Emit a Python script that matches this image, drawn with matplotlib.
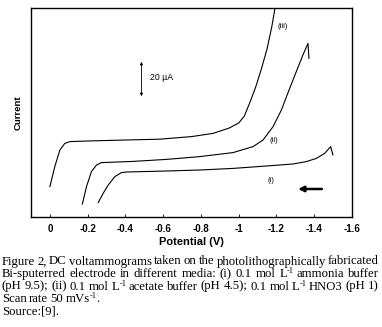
import matplotlib
matplotlib.use('Agg')
import matplotlib.pyplot as plt

# potential (V) and current (uA, arbitrary offset)
v_iii = [0.0, -0.026, -0.053, -0.079, -0.106, -0.2, -0.4, -0.58, -0.75, -0.864,
         -0.95, -1.0, -1.03, -1.06, -1.09, -1.12, -1.15, -1.175, -1.195]
i_iii = [15.2, 25.2, 33.5, 36.8, 37.7, 38.0, 38.5, 38.9, 40.2, 41.8,
         44.5, 47.0, 50.5, 57.5, 65.0, 74.0, 84.0, 95.0, 106.0]

v_ii = [-0.172, -0.194, -0.22, -0.247, -0.273, -0.441, -0.617, -0.794, -0.97,
        -1.076, -1.129, -1.182, -1.226, -1.27, -1.305, -1.34, -1.367, -1.372]
i_ii = [6.5, 15.2, 22.7, 26.0, 27.2, 27.8, 28.8, 30.2, 32.2,
        35.2, 38.5, 45.2, 53.5, 64.3, 72.7, 81.0, 86.8, 79.3]

v_i = [-0.256, -0.282, -0.309, -0.344, -0.379, -0.406, -0.617, -0.794, -0.97,
       -1.146, -1.287, -1.358, -1.411, -1.455, -1.487, -1.499]
i_i = [7.2, 11.8, 16.0, 20.2, 22.2, 22.5, 23.0, 23.5, 24.3,
       25.5, 26.5, 27.7, 29.3, 31.8, 35.2, 31.0]

xticks = [0, -0.2, -0.4, -0.6, -0.8, -1.0, -1.2, -1.4, -1.6]
xtick_labels = ['0', '-0.2', '-0.4', '-0.6', '-0.8', '-1', '-1.2', '-1.4', '-1.6']

# '|' switches between normal and superscript text inside a word
caption = [
    ('Figure 2, DC voltammograms taken on the photolithographically fabricated', True),
    ('Bi-sputerred electrode in different media: (i) 0.1 mol L|-1 ammonia buffer', True),
    ('(pH 9.5); (ii) 0.1 mol L|-1 acetate buffer (pH 4.5); 0.1 mol L|-1 HNO3 (pH 1)', True),
    ('Scan rate 50 mVs|-1|.', False),
    ('Source:[9].', False),
]

W, H = 382, 327
fig = plt.figure(figsize=(W / 100, H / 100), dpi=100)
ax = fig.add_axes([31 / W, (H - 217) / H, 321 / W, 209 / H])

ax.plot(v_iii, i_iii, color='black', lw=0.8)
ax.plot(v_ii, i_ii, color='black', lw=0.8)
ax.plot(v_i, i_i, color='black', lw=0.8)

ax.set_xlim(0.1, -1.6)
ax.set_ylim(0, 104.5)
ax.set_xticks(xticks)
ax.set_xticklabels(xtick_labels, fontfamily='Liberation Sans', fontweight='bold', fontsize=7)
ax.set_yticks([])
ax.tick_params(axis='x', direction='in', length=2, width=0.6, pad=5)
for s in ax.spines.values():
    s.set_linewidth(1.0)

ax.set_xlabel('Potential (V)', fontfamily='Liberation Sans', fontweight='bold', fontsize=8, labelpad=2)
ax.set_ylabel('Current', fontfamily='Liberation Sans', fontweight='bold', fontsize=6.8, labelpad=6)

lab = dict(fontfamily='Liberation Sans', fontsize=5.5, ha='left', va='center')
ax.text(-1.205, 95.2, '(iii)', **lab)
ax.text(-1.165, 38.5, '(ii)', **lab)
ax.text(-1.15, 18.5, '(i)', **lab)

# scale bar
ax.annotate('', xy=(-0.485, 79), xytext=(-0.485, 59),
            arrowprops=dict(arrowstyle='<|-|>', color='black', lw=0.6,
                            mutation_scale=4))
ax.text(-0.53, 69.5, '20 \u00b5A', fontfamily='Liberation Sans', fontsize=6.3,
        ha='left', va='center')

# scan direction
ax.annotate('', xy=(-1.30, 14), xytext=(-1.455, 14),
            arrowprops=dict(arrowstyle='-|>', color='black', lw=1.8,
                            mutation_scale=8))

# caption, justified like the source page
renderer = fig.canvas.get_renderer()
cap_size = 9.2
sup_size = 6.0
sup_rise = 4.0  # px


def make_word(word, yb):
    pieces = []
    for k, part in enumerate(word.split('|')):
        if not part:
            continue
        sup = k % 2 == 1
        t = fig.text(0, 0, part, fontfamily='Liberation Serif',
                     fontsize=sup_size if sup else cap_size,
                     va='baseline', ha='left')
        w = t.get_window_extent(renderer).width
        if sup:
            w -= 1.0
        pieces.append((t, w, yb - sup_rise if sup else yb))
    return pieces


def place(pieces, x):
    for t, w, yb in pieces:
        t.set_position((x / W, 1 - yb / H))
        x += w
    return x


baselines = [264.5, 277, 289.5, 302, 314.5]
x0, x1 = 2, 379
for (line, just), yb in zip(caption, baselines):
    words = [make_word(w, yb) for w in line.split(' ')]
    widths = [sum(p[1] for p in wd) for wd in words]
    if just:
        gap = (x1 - x0 - sum(widths)) / (len(words) - 1)
    else:
        gap = 2.3
    x = x0
    for wd in words:
        x = place(wd, x) + gap

fig.savefig('out.png', dpi=100)
